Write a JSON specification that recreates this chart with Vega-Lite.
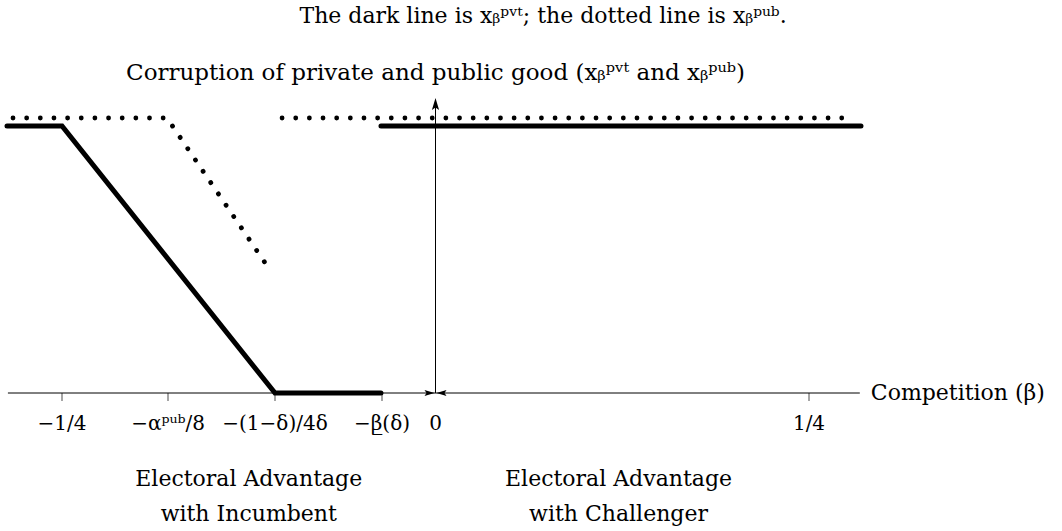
{
  "$schema": "https://vega.github.io/schema/vega-lite/v6.json",
  "width": 1062,
  "height": 531,
  "autosize": "none",
  "padding": 0,
  "background": "white",
  "config": {"view": {"stroke": null}, "text": {"font": "DejaVu Serif", "color": "black"}},
  "datasets": {
    "axisH": [{"b": -0.2862, "v": 0}, {"b": 0.284, "v": 0}],
    "axisV": [{"b": 0, "v": 0}, {"b": 0, "v": 1.08}],
    "origin": [{"b": 0, "v": 0}],
    "ytip": [{"b": 0, "v": 1.0824}],
    "pvt": [
      {"seg": "a", "b": -0.2868, "v": 1},
      {"seg": "a", "b": -0.25, "v": 1},
      {"seg": "a", "b": -0.10743, "v": 0},
      {"seg": "a", "b": -0.0365, "v": 0},
      {"seg": "b", "b": -0.0365, "v": 1},
      {"seg": "b", "b": 0.2848, "v": 1}
    ],
    "pub": [
      {"seg": "a", "b": -0.2828, "v": 1.03},
      {"seg": "a", "b": -0.1797, "v": 1.03},
      {"seg": "a", "b": -0.1096, "v": 0.4506},
      {"seg": "b", "b": -0.1027, "v": 1.03},
      {"seg": "b", "b": 0.2797, "v": 1.03}
    ],
    "tk": [
      {"b": -0.25, "v": 0, "t": "−1/4"},
      {"b": -0.17905, "v": 0, "t": "−αᵖᵘᵇ/8"},
      {"b": -0.10743, "v": 0, "t": "−(1−δ)/4δ"},
      {"b": -0.03581, "v": 0, "t": "−β̲(δ)"},
      {"b": 0, "v": 0, "t": "0"},
      {"b": 0.25, "v": 0, "t": "1/4"}
    ],
    "groups": [
      {"b": -0.125, "v": -0.3483, "t": "Electoral Advantage\nwith Incumbent"},
      {"b": 0.1225, "v": -0.3483, "t": "Electoral Advantage\nwith Challenger"}
    ],
    "xlab": [{"b": 0.284, "v": 0, "t": "Competition (β)"}],
    "title1": [{"b": 0.072, "v": 1.3858, "t": "The dark line is xᵦᵖᵛᵗ; the dotted line is xᵦᵖᵘᵇ."}],
    "title2": [{"b": 0, "v": 1.1723, "t": "Corruption of private and public good (xᵦᵖᵛᵗ and xᵦᵖᵘᵇ)"}]
  },
  "encoding": {
    "x": {"field": "b", "type": "quantitative", "scale": {"domain": [-0.2915, 0.41934], "nice": false, "zero": false}, "axis": null},
    "y": {"field": "v", "type": "quantitative", "scale": {"domain": [-0.51685, 1.47191], "nice": false, "zero": false}, "axis": null}
  },
  "layer": [
    {"data": {"name": "axisH"}, "mark": {"type": "line", "color": "black", "strokeWidth": 1}},
    {"data": {"name": "axisV"}, "mark": {"type": "line", "color": "black", "strokeWidth": 1}},
    {"data": {"name": "origin"}, "mark": {"type": "point", "shape": "M1,0L-1,-0.6L-0.6,0L-1,0.6Z", "size": 100, "filled": true, "color": "black", "opacity": 1, "xOffset": -6}},
    {"data": {"name": "origin"}, "mark": {"type": "point", "shape": "M-1,0L1,-0.6L0.6,0L1,0.6Z", "size": 100, "filled": true, "color": "black", "opacity": 1, "xOffset": 6}},
    {"data": {"name": "ytip"}, "mark": {"type": "point", "shape": "M0,-1L0.6,1L0,0.6L-0.6,1Z", "size": 144, "filled": true, "color": "black", "opacity": 1}},
    {
      "data": {"name": "tk"},
      "transform": [{"filter": "datum.b != 0"}],
      "mark": {"type": "tick", "orient": "vertical", "color": "black", "thickness": 1, "size": 8, "yOffset": 4}
    },
    {
      "data": {"name": "tk"},
      "mark": {"type": "text", "fontSize": 20, "baseline": "middle", "align": "center", "dy": 31},
      "encoding": {"text": {"field": "t", "type": "nominal"}}
    },
    {"data": {"name": "pvt"}, "mark": {"type": "line", "color": "black", "strokeWidth": 5, "strokeCap": "round", "strokeJoin": "miter"}, "encoding": {"detail": {"field": "seg", "type": "nominal"}}},
    {"data": {"name": "pub"}, "mark": {"type": "line", "color": "black", "strokeWidth": 4.8, "strokeCap": "round", "strokeDash": [0.01, 13.64]}, "encoding": {"detail": {"field": "seg", "type": "nominal"}}},
    {
      "data": {"name": "groups"},
      "mark": {"type": "text", "fontSize": 22, "align": "center", "baseline": "alphabetic", "lineBreak": "\n", "lineHeight": 35},
      "encoding": {"text": {"field": "t", "type": "nominal"}}
    },
    {
      "data": {"name": "xlab"},
      "mark": {"type": "text", "fontSize": 22, "align": "left", "baseline": "middle", "dx": 11},
      "encoding": {"text": {"field": "t", "type": "nominal"}}
    },
    {
      "data": {"name": "title1"},
      "mark": {"type": "text", "fontSize": 22, "align": "center", "baseline": "alphabetic"},
      "encoding": {"text": {"field": "t", "type": "nominal"}}
    },
    {
      "data": {"name": "title2"},
      "mark": {"type": "text", "fontSize": 23, "align": "center", "baseline": "alphabetic"},
      "encoding": {"text": {"field": "t", "type": "nominal"}}
    }
  ]
}
